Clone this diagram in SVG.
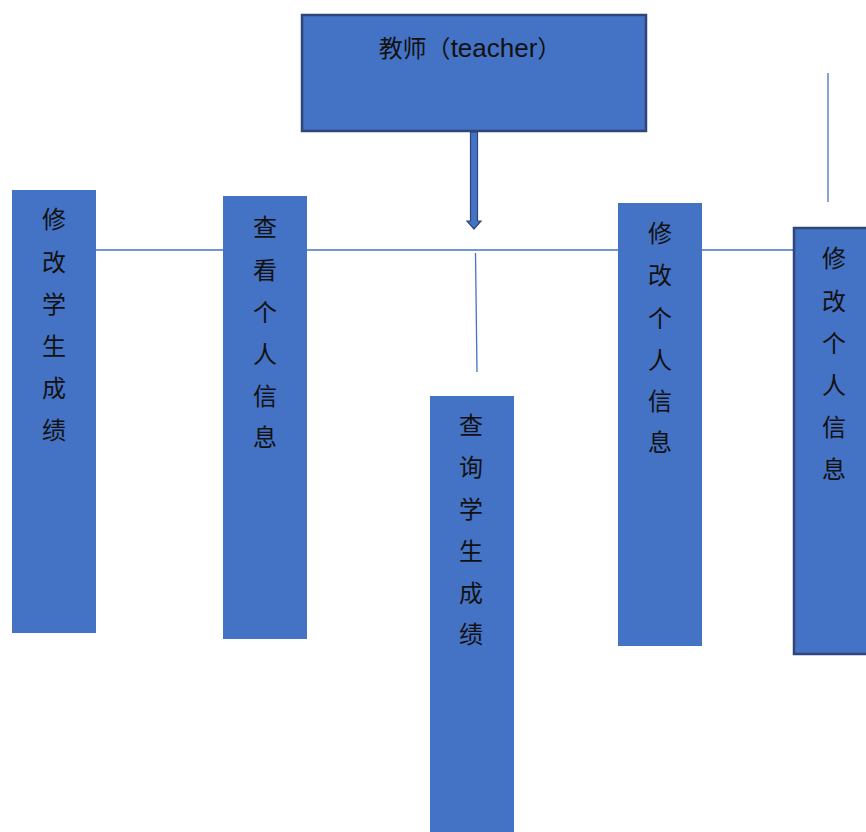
<svg xmlns="http://www.w3.org/2000/svg" width="866" height="832" viewBox="0 0 866 832">
<style>
.box{fill:#4472C4}
.bord{fill:#4472C4;stroke:#2F4677;stroke-width:2.5}
.t{font-family:"Noto Sans CJK SC","Noto Sans",sans-serif;font-size:24px;fill:#111;text-anchor:middle}
.lat{font-family:"Liberation Sans",sans-serif;font-size:26px}
.ln{stroke:#4472C4;stroke-width:1.3;fill:none}
</style>
<rect width="866" height="832" fill="#fff"/>
<g id="connectors">
<line class="ln" x1="96" y1="250" x2="793" y2="250"/>
<line class="ln" x1="475.5" y1="253" x2="477" y2="372"/>
<line class="ln" x1="828" y1="73" x2="828" y2="202"/>
<path d="M470.5,132 L477.5,132 L477.5,221 L481,221 L474,229 L467,221 L470.5,221 Z" fill="#4472C4" stroke="#2F4677" stroke-width="1.2"/>
</g>
<g id="teacher">
<rect class="bord" x="302" y="15" width="344" height="116"/>
<text class="t" x="470" y="57">教师（<tspan class="lat">teacher</tspan>）</text>
</g>
<g id="n1">
<rect class="box" x="12" y="190" width="84" height="443"/>
<text class="t" x="54"><tspan x="54" y="228">修</tspan><tspan x="54" y="271">改</tspan><tspan x="54" y="313">学</tspan><tspan x="54" y="355">生</tspan><tspan x="54" y="397">成</tspan><tspan x="54" y="439">绩</tspan></text>
</g>
<g id="n2">
<rect class="box" x="223" y="196" width="84" height="443"/>
<text class="t"><tspan x="265" y="236">查</tspan><tspan x="265" y="279">看</tspan><tspan x="265" y="321">个</tspan><tspan x="265" y="363">人</tspan><tspan x="265" y="405">信</tspan><tspan x="265" y="446">息</tspan></text>
</g>
<g id="n3">
<rect class="box" x="430" y="396" width="84" height="436"/>
<text class="t"><tspan x="471" y="434">查</tspan><tspan x="471" y="476">询</tspan><tspan x="471" y="518">学</tspan><tspan x="471" y="560">生</tspan><tspan x="471" y="602">成</tspan><tspan x="471" y="643">绩</tspan></text>
</g>
<g id="n4">
<rect class="box" x="618" y="203" width="84" height="443"/>
<text class="t"><tspan x="660" y="242">修</tspan><tspan x="660" y="284">改</tspan><tspan x="660" y="327">个</tspan><tspan x="660" y="369">人</tspan><tspan x="660" y="410">信</tspan><tspan x="660" y="451">息</tspan></text>
</g>
<g id="n5">
<rect class="bord" x="794" y="228" width="80" height="426"/>
<text class="t"><tspan x="834" y="267">修</tspan><tspan x="834" y="310">改</tspan><tspan x="834" y="352">个</tspan><tspan x="834" y="394">人</tspan><tspan x="834" y="436">信</tspan><tspan x="834" y="478">息</tspan></text>
</g>
</svg>
